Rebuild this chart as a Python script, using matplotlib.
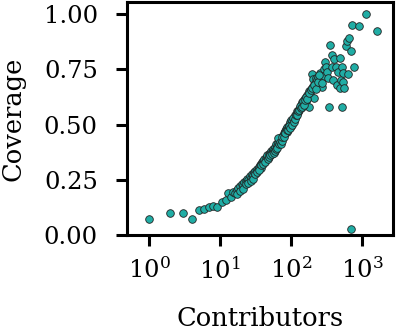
import numpy as np
import matplotlib
matplotlib.use("Agg")
import matplotlib.pyplot as plt

# contributors (x) and coverage (y)
contributors = [
    1, 2, 3, 4, 5, 6, 7, 8, 9, 10.5, 12, 13, 14, 15, 16, 17, 18, 19, 20, 21,
    22, 23, 24, 25, 26, 27, 28, 29, 30, 31, 32, 33, 34, 35, 36, 37, 38, 39, 40, 41,
    42, 44, 45, 46, 48, 50, 52, 54, 55, 56, 58, 60, 62, 64, 66, 68, 70, 72, 74, 76,
    78, 80, 82, 84, 86, 88, 90, 92, 95, 98, 100, 104, 108, 112, 116, 120, 124, 128, 132, 136,
    140, 145, 150, 155, 160, 165, 170, 175, 180, 185, 190, 195, 200, 205, 210, 215, 220, 230, 240, 250,
    255, 265, 275, 285, 290, 300, 310, 320, 330, 345, 355, 370, 380, 390, 400, 420, 440, 460, 480, 490,
    500, 510, 520, 530, 540, 560, 580, 600, 620, 650, 690, 700, 720, 760, 900, 1120, 1600,
    # second pass through the thick part of the band
    17, 19, 21, 23, 25, 27, 29, 31, 33, 35, 38, 40, 43, 47, 49, 51, 53, 57, 59, 61,
    63, 65, 67, 69, 71, 73, 75, 79, 81, 83, 87, 91, 94, 97, 102, 106, 110, 114, 118, 122,
    126, 130, 134, 138, 143, 148, 153, 158, 163, 168, 178, 188, 198, 208, 225, 235, 245, 270,
]
coverage = [
    0.071, 0.098, 0.098, 0.074, 0.113, 0.116, 0.128, 0.131, 0.128, 0.151, 0.158, 0.189, 0.17, 0.196, 0.19, 0.205, 0.215, 0.22, 0.23, 0.225,
    0.24, 0.245, 0.255, 0.25, 0.265, 0.26, 0.275, 0.27, 0.285, 0.29, 0.28, 0.30, 0.295, 0.31, 0.315, 0.32, 0.305, 0.33, 0.335, 0.33,
    0.345, 0.35, 0.355, 0.36, 0.365, 0.37, 0.38, 0.375, 0.385, 0.39, 0.385, 0.40, 0.41, 0.405, 0.42, 0.43, 0.425, 0.445, 0.44, 0.45,
    0.46, 0.455, 0.47, 0.48, 0.465, 0.49, 0.485, 0.50, 0.51, 0.495, 0.52, 0.515, 0.53, 0.545, 0.54, 0.56, 0.555, 0.57, 0.575, 0.59,
    0.60, 0.595, 0.61, 0.62, 0.605, 0.635, 0.625, 0.58, 0.65, 0.64, 0.66, 0.73, 0.675, 0.705, 0.62, 0.69, 0.71, 0.70, 0.715, 0.68,
    0.735, 0.70, 0.67, 0.75, 0.72, 0.784, 0.76, 0.74, 0.71, 0.58, 0.86, 0.815, 0.76, 0.70, 0.795, 0.76, 0.68, 0.74, 0.664, 0.80,
    0.70, 0.58, 0.76, 0.734, 0.694, 0.664, 0.855, 0.879, 0.73, 0.894, 0.834, 0.029, 0.95, 0.76, 0.947, 1.0, 0.924,
    0.185, 0.20, 0.21, 0.23, 0.235, 0.245, 0.255, 0.275, 0.285, 0.295, 0.315, 0.32, 0.33, 0.345, 0.355, 0.36, 0.365, 0.37, 0.38, 0.39,
    0.395, 0.44, 0.41, 0.42, 0.41, 0.425, 0.445, 0.445, 0.465, 0.46, 0.475, 0.475, 0.495, 0.485, 0.50, 0.53, 0.51, 0.525, 0.545, 0.545,
    0.56, 0.565, 0.585, 0.575, 0.58, 0.605, 0.59, 0.61, 0.625, 0.615, 0.645, 0.655, 0.665, 0.68, 0.66, 0.695, 0.725, 0.69,
]

plt.rcParams['font.family'] = 'DejaVu Serif'
plt.rcParams['mathtext.fontset'] = 'dejavuserif'

fig = plt.figure(figsize=(4, 3.31), dpi=100)
ax = fig.add_axes([0.3175, 0.29, 0.665, 0.704])

ax.scatter(contributors, coverage, s=30, color='#20ADA5', edgecolor='#222222', linewidth=0.6, zorder=3)

ax.set_xscale('log')
ax.set_xlim(0.49, 2700)
ax.set_ylim(0, 1.055)
ax.set_xticks([1, 10, 100, 1000])
ax.minorticks_off()
ax.set_yticks([0, 0.25, 0.5, 0.75, 1.0])
ax.set_yticklabels(['0.00', '0.25', '0.50', '0.75', '1.00'])

for s in ax.spines.values():
    s.set_linewidth(2.2)
ax.tick_params(axis='both', length=8, width=2.2, labelsize=17.5)
ax.tick_params(axis='y', pad=13)
ax.tick_params(axis='x', pad=8)

ax.set_xlabel('Contributors', fontsize=18.5, labelpad=16)
ax.set_ylabel('Coverage', fontsize=18.5, labelpad=13)

fig.savefig('out.png', dpi=100)
